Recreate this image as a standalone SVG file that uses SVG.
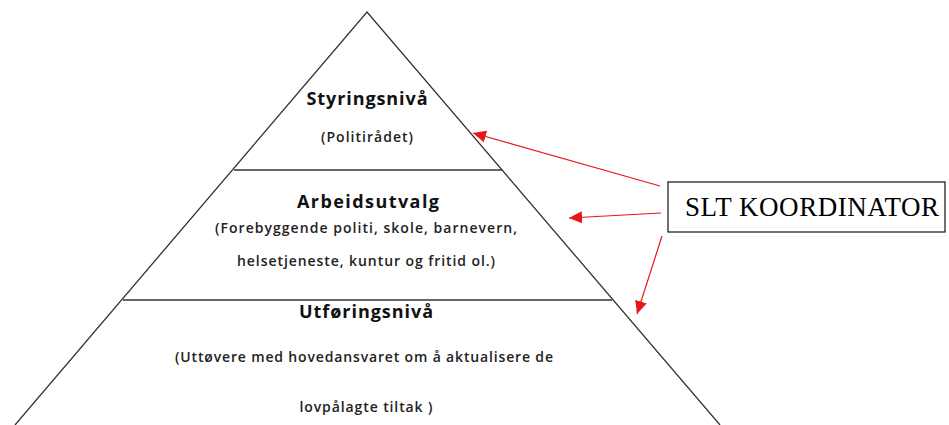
<svg xmlns="http://www.w3.org/2000/svg" width="949" height="425" viewBox="0 0 949 425">
<style>
.edge{stroke:#333;stroke-width:1.3;fill:none}
.h{font-family:"Open Sans","Noto Sans",sans-serif;font-weight:bold;font-size:18px;fill:#111;text-anchor:middle}
.t{font-family:"Open Sans","Noto Sans",sans-serif;font-weight:600;font-size:14px;fill:#222;text-anchor:middle}
.arr{stroke:#e8161b;stroke-width:1.2;fill:none;marker-end:url(#ah)}
.box{fill:#fff;stroke:#111;stroke-width:1.2}
.slt{font-family:"Liberation Serif","Times New Roman",serif;font-size:27px;fill:#000;text-anchor:middle}
</style>
<defs>
<marker id="ah" markerUnits="userSpaceOnUse" markerWidth="14" markerHeight="12" refX="13" refY="6" orient="auto">
<path d="M0,0 L13,6 L0,12 z" fill="#e8161b"/>
</marker>
</defs>
<rect width="949" height="425" fill="#fff"/>
<g id="pyramid">
<path class="edge" d="M15,425 L367,12 L720,425"/>
</g>
<g id="styringsniva">
<line class="edge" x1="234" y1="170" x2="502" y2="170"/>
<text class="h" x="367" y="105" textLength="121">Styringsnivå</text>
<text class="t" x="367" y="142" textLength="92">(Politirådet)</text>
</g>
<g id="arbeidsutvalg">
<line class="edge" x1="123" y1="300" x2="612" y2="300"/>
<text class="h" x="368" y="208" textLength="142">Arbeidsutvalg</text>
<text class="t" x="366" y="233" textLength="302">(Forebyggende politi, skole, barnevern,</text>
<text class="t" x="366" y="266" textLength="258">helsetjeneste, kuntur og fritid ol.)</text>
</g>
<g id="utforingsniva">
<text class="h" x="366" y="318" textLength="134">Utføringsnivå</text>
<text class="t" x="364" y="362" textLength="378">(Uttøvere med hovedansvaret om å aktualisere de</text>
<text class="t" x="366" y="412" textLength="133">lovpålagte tiltak )</text>
</g>
<g id="slt-koordinator">
<rect class="box" x="668" y="182" width="277" height="50"/>
<text class="slt" x="812" y="216" textLength="254">SLT KOORDINATOR</text>
</g>
<g id="connectors">
<line class="arr" x1="660" y1="186" x2="473" y2="133"/>
<line class="arr" x1="661" y1="213" x2="569" y2="218"/>
<line class="arr" x1="662" y1="236" x2="637" y2="314"/>
</g>
</svg>
